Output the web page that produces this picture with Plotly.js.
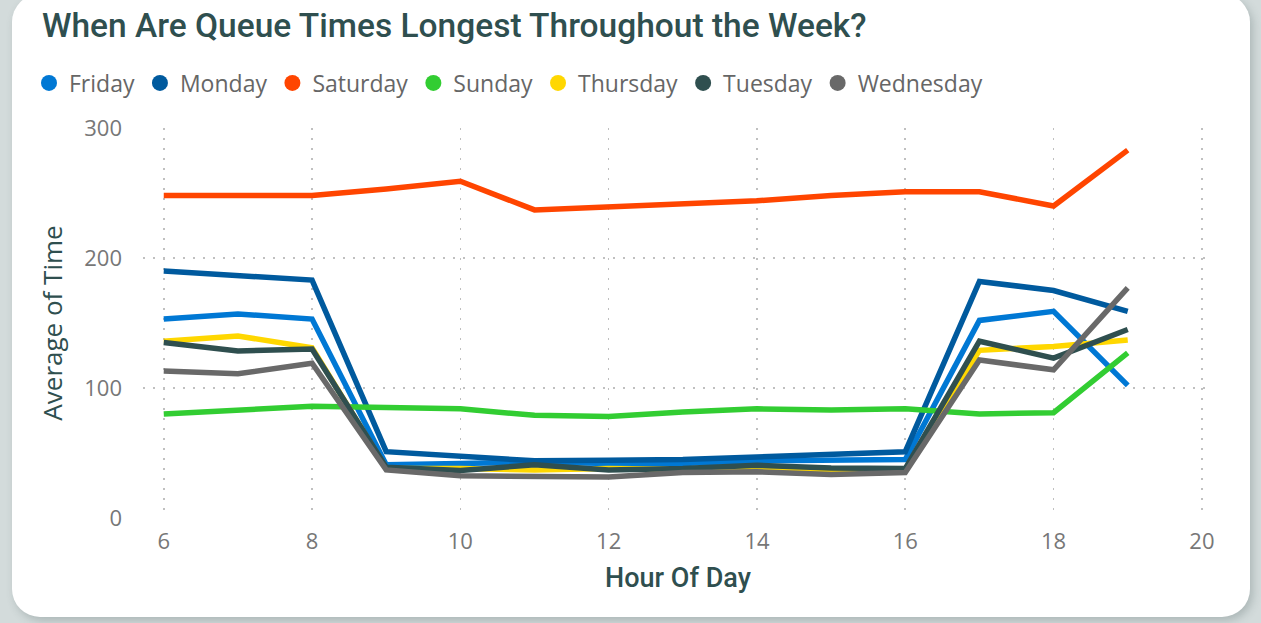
<!DOCTYPE html>
<html>
<head>
<meta charset="utf-8">
<script src="https://cdn.plot.ly/plotly-3.0.1.min.js"></script>
<style>
  html, body { margin:0; padding:0; width:1261px; height:623px; overflow:hidden; background:#d3dbdb; }
  #card { position:absolute; left:12px; top:-6px; width:1238px; height:623px; background:#ffffff;
          border-radius:28px; box-shadow: 3px 4px 8px rgba(60,80,80,0.25); }
  #chart { position:absolute; left:0; top:0; width:1261px; height:623px; }
</style>
</head>
<body>
<div id="card"></div>
<div id="chart"></div>
<script>
const hours = [6, 7, 8, 9, 10, 11, 12, 13, 14, 15, 16, 17, 18, 19];
const friday    = [153, 157, 153, 41, 42, 43, 42, 42, 44, 44, 45, 152, 159, 102];
const monday    = [190, 187, 183, 51, 47, 44, 44.5, 45, 47, 49, 51, 182, 175, 159];
const saturday  = [248, 248, 248, 253, 259, 237, 239, 242, 244, 248, 251, 251, 240, 283];
const sunday    = [80, 82.5, 86, 85, 84, 79, 78, 81.5, 84, 83, 84, 80, 81, 127];
const thursday  = [136, 140, 131, 38, 38, 37, 38, 38, 37, 36, 37, 129, 132, 137];
const tuesday   = [135, 128.5, 130, 39, 36.5, 41, 37, 38, 40.5, 38.5, 38, 136, 123, 145];
const wednesday = [113, 111, 119, 37, 32.5, 31.5, 31.5, 35, 35.5, 33.5, 35, 121.5, 114, 177];

const seriesNames = ["Friday", "Monday", "Saturday", "Sunday", "Thursday", "Tuesday", "Wednesday"];
const seriesValues = [friday, monday, saturday, sunday, thursday, tuesday, wednesday];
const seriesColors = ["#0078D4", "#005A9E", "#FF4500", "#32CD32", "#FFD700", "#2F4F4F", "#696969"];

const traces = [];
seriesNames.forEach((name, i) => {
  traces.push({
    x: hours, y: seriesValues[i], name: name, type: "scatter", mode: "lines",
    line: { color: seriesColors[i], width: 5.5, shape: "linear" },
    showlegend: false, legendgroup: name
  });
});
seriesNames.forEach((name, i) => {
  traces.push({
    x: [null], y: [null], name: name, type: "scatter", mode: "markers",
    marker: { color: seriesColors[i], size: 19, symbol: "circle" },
    showlegend: true, legendgroup: name
  });
});

const layout = {
  width: 1261, height: 623,
  paper_bgcolor: "rgba(0,0,0,0)", plot_bgcolor: "rgba(0,0,0,0)",
  margin: { l: 143, r: 48, t: 128, b: 105 },
  title: {
    text: "When Are Queue Times Longest Throughout the Week?",
    font: { family: "Roboto", size: 33.5, color: "#2F4F4F", weight: 500 },
    x: 42/1261, xanchor: "left", xref: "container",
    y: 1 - 25/623, yanchor: "middle", yref: "container"
  },
  legend: {
    orientation: "h", xref: "container", yref: "container",
    x: 29/1261, xanchor: "left", y: 1 - 83/623, yanchor: "middle",
    font: { family: "Open Sans", size: 23, color: "#666666" },
    itemsizing: "trace", itemwidth: 30, traceorder: "normal", tracegroupgap: 0
  },
  xaxis: {
    range: [5.72, 20.15], dtick: 2, tick0: 0,
    showgrid: true, gridcolor: "#c0c0c0", gridwidth: 1.6, griddash: "2px,8px",
    zeroline: false, showline: false, ticks: "", ticklabelstandoff: 8,
    tickfont: { family: "Open Sans", size: 22, color: "#777777" },
    title: { text: "Hour Of Day", font: { family: "Roboto", size: 27, color: "#2F4F4F", weight: 500 }, standoff: 14 }
  },
  yaxis: {
    range: [0, 300], dtick: 100,
    showgrid: true, gridcolor: "#c0c0c0", gridwidth: 1.6, griddash: "2px,8px",
    zeroline: false, showline: false, ticks: "", ticklabelstandoff: 20,
    tickfont: { family: "Open Sans", size: 22, color: "#777777" },
    title: { text: "Average of Time", font: { family: "Open Sans", size: 26, color: "#2F4F4F", weight: 500 }, standoff: 14 }
  },
  showlegend: true
};

Plotly.newPlot("chart", traces, layout, { displayModeBar: false, staticPlot: true });
</script>
</body>
</html>
